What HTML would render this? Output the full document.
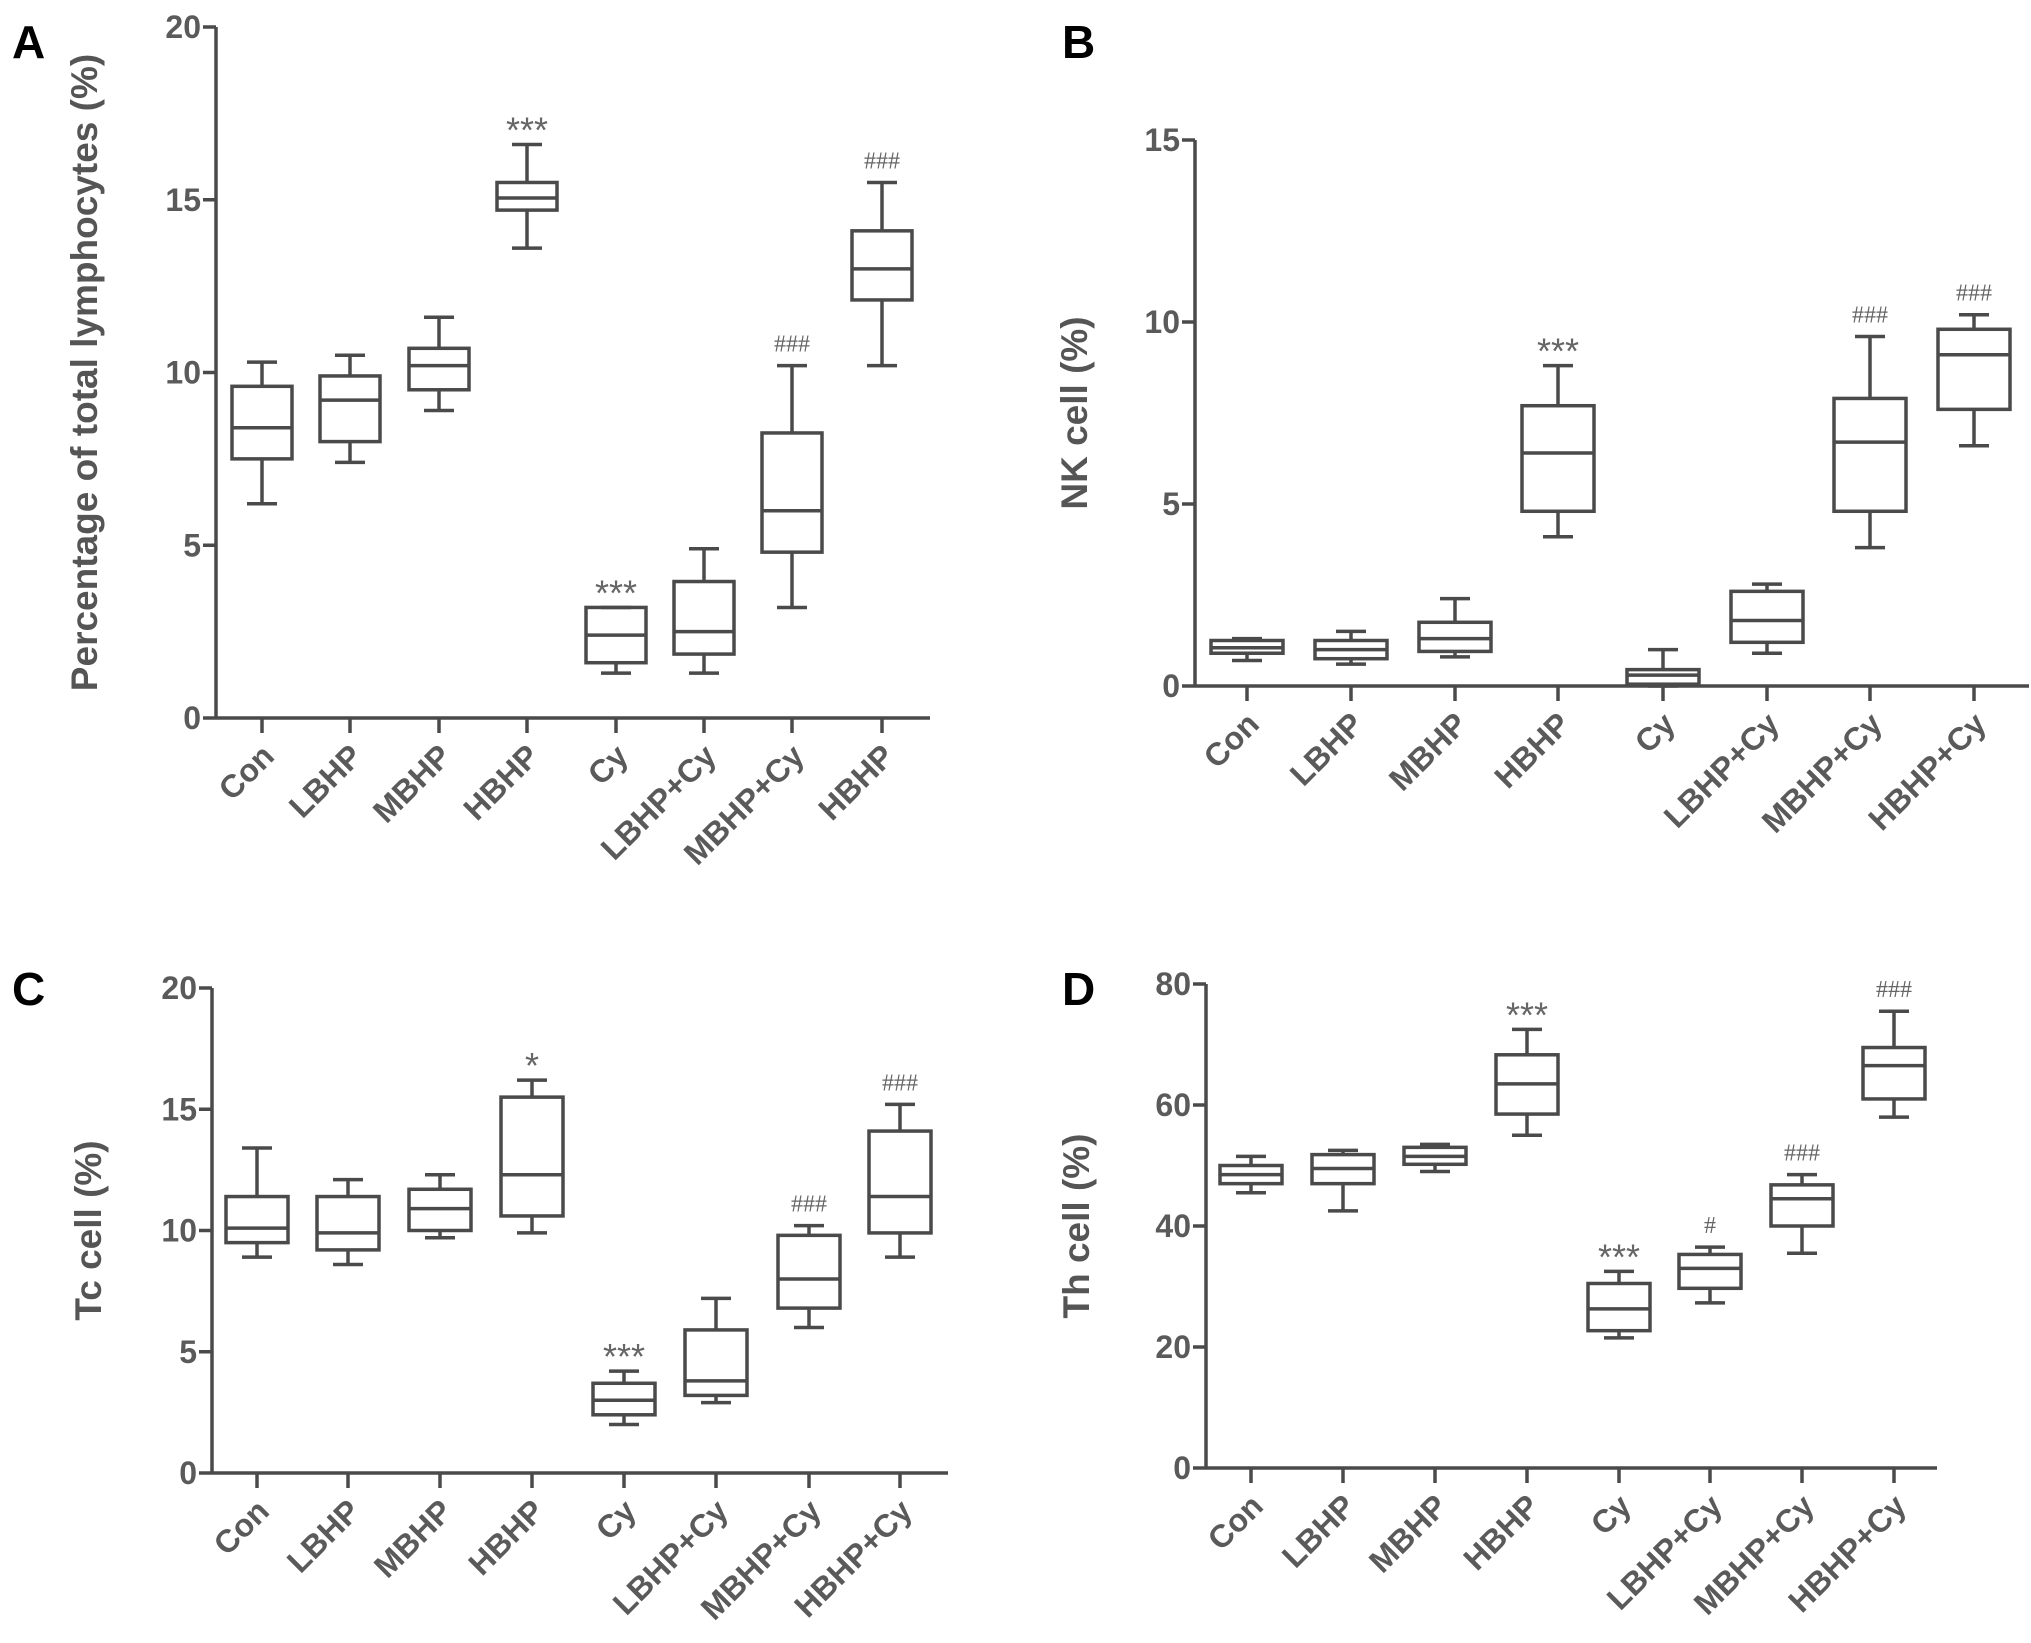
<!DOCTYPE html>
<html><head><meta charset="utf-8"><style>
html,body{margin:0;padding:0;background:#fff;}
svg{display:block;font-family:"Liberation Sans",Arial,sans-serif;}
</style></head><body>
<svg id="fig" width="2031" height="1643" viewBox="0 0 2031 1643" xmlns="http://www.w3.org/2000/svg"></svg>
<script>
const categoriesA = ["Con","LBHP","MBHP","HBHP","Cy","LBHP+Cy","MBHP+Cy","HBHP"];
const categoriesBCD = ["Con","LBHP","MBHP","HBHP","Cy","LBHP+Cy","MBHP+Cy","HBHP+Cy"];
// [whiskerLow, q1, median, q3, whiskerHigh]
const boxesA = [[6.2,7.5,8.4,9.6,10.3],[7.4,8.0,9.2,9.9,10.5],[8.9,9.5,10.2,10.7,11.6],[13.6,14.7,15.05,15.5,16.6],[1.3,1.6,2.4,3.2,3.2],[1.3,1.85,2.5,3.95,4.9],[3.2,4.8,6.0,8.25,10.2],[10.2,12.1,13.0,14.1,15.5]];
const boxesB = [[0.7,0.9,1.05,1.25,1.3],[0.6,0.75,1.0,1.25,1.5],[0.8,0.95,1.3,1.75,2.4],[4.1,4.8,6.4,7.7,8.8],[0.0,0.05,0.3,0.45,1.0],[0.9,1.2,1.8,2.6,2.8],[3.8,4.8,6.7,7.9,9.6],[6.6,7.6,9.1,9.8,10.2]];
const boxesC = [[8.9,9.5,10.1,11.4,13.4],[8.6,9.2,9.9,11.4,12.1],[9.7,10.0,10.9,11.7,12.3],[9.9,10.6,12.3,15.5,16.2],[2.0,2.4,3.0,3.7,4.2],[2.9,3.2,3.8,5.9,7.2],[6.0,6.8,8.0,9.8,10.2],[8.9,9.9,11.4,14.1,15.2]];
const boxesD = [[45.5,47,48.5,50,51.5],[42.5,47,49.5,51.8,52.5],[49,50.2,51.5,53,53.5],[55,58.5,63.5,68.3,72.5],[21.5,22.7,26.3,30.5,32.5],[27.3,29.7,33,35.3,36.5],[35.5,40,44.5,46.8,48.5],[58,61,66.5,69.5,75.5]];
const annotA = ["","","","***","***","","###","###"];
const annotB = ["","","","***","","","###","###"];
const annotC = ["","","","*","***","","###","###"];
const annotD = ["","","","***","***","#","###","###"];
const ticksA = [0,5,10,15,20];
const ticksB = [0,5,10,15];
const ticksC = [0,5,10,15,20];
const ticksD = [0,20,40,60,80];

const svg = document.getElementById('fig');
const NS = "http://www.w3.org/2000/svg";
const COL = "#4a4a4a";
function mk(tag, attrs, parent){
  const e = document.createElementNS(NS, tag);
  for (const k in attrs) e.setAttribute(k, attrs[k]);
  (parent||svg).appendChild(e);
  return e;
}
const panels = [
  {id:"a", letter:"A", lx:12, ly:58, ax:216, x1:930, yTop:27, y0:718, ymax:20, cats:categoriesA, boxes:boxesA, ann:annotA, ticks:ticksA, xs:[262,350,439,527,616,704,792,882], hw:30, title:"Percentage of  total lymphocytes (%)", tx:97},
  {id:"b", letter:"B", lx:1062, ly:58, ax:1195, x1:2029, yTop:140, y0:686, ymax:15, cats:categoriesBCD, boxes:boxesB, ann:annotB, ticks:ticksB, xs:[1247,1351,1455,1558,1663,1767,1870,1974], hw:36, title:"NK cell (%)", tx:1087},
  {id:"c", letter:"C", lx:12, ly:1005, ax:212, x1:948, yTop:988, y0:1473, ymax:20, cats:categoriesBCD, boxes:boxesC, ann:annotC, ticks:ticksC, xs:[257,348,440,532,624,716,809,900], hw:31, title:"Tc cell (%)", tx:101},
  {id:"d", letter:"D", lx:1062, ly:1005, ax:1206, x1:1937, yTop:984, y0:1468, ymax:80, cats:categoriesBCD, boxes:boxesD, ann:annotD, ticks:ticksD, xs:[1251,1343,1435,1527,1619,1710,1802,1894], hw:31, title:"Th cell (%)", tx:1089}
];
panels.forEach(p => {
  const g = mk('g', {});
  
  
  const y = v => p.y0 - (v / p.ymax) * (p.y0 - p.yTop);
  const L = mk('text', {x:p.lx, y:p.ly, 'font-size':46, 'font-weight':'bold', fill:'#000'}, g);
  L.textContent = p.letter;
  
  
  const ya = mk('line', {x1:p.ax, y1:p.yTop, x2:p.ax, y2:p.y0, stroke:COL, 'stroke-width':3.5}, g);
  
  
  const xa = mk('line', {x1:p.ax, y1:p.y0, x2:p.x1, y2:p.y0, stroke:COL, 'stroke-width':3.5}, g);
  
  
  p.ticks.forEach(t => {
    mk('line', {x1:p.ax-13, y1:y(t), x2:p.ax, y2:y(t), stroke:COL, 'stroke-width':3.5}, g);
    const tl = mk('text', {x:p.ax-15, y:y(t)+11, 'font-size':32, 'font-weight':'bold', fill:'#5a5a5a', 'text-anchor':'end'}, g);
    tl.textContent = t;
    
    
  });
  const tt = mk('text', {x:p.tx, y:(p.yTop+p.y0)/2, 'font-size':37, 'font-weight':'bold', fill:'#555', 'text-anchor':'middle', transform:'rotate(-90 '+p.tx+' '+((p.yTop+p.y0)/2)+')'}, g);
  tt.textContent = p.title;
  
  
  p.cats.forEach((c, i) => {
    const cx = p.xs[i];
    mk('line', {x1:cx, y1:p.y0, x2:cx, y2:p.y0+15, stroke:COL, 'stroke-width':3.5}, g);
    const lx = cx + 14, ly = p.y0 + 40;
    const xl = mk('text', {x:lx, y:ly, 'font-size':32, 'font-weight':'bold', fill:'#5a5a5a', 'text-anchor':'end', transform:'rotate(-45 '+lx+' '+ly+')'}, g);
    xl.textContent = c;
    
    
    const b = p.boxes[i];
    const bg = mk('g', {fill:'none', stroke:COL, 'stroke-width':3.5}, g);
    
    
    mk('line', {x1:cx, y1:y(b[4]), x2:cx, y2:y(b[3])}, bg);
    mk('line', {x1:cx, y1:y(b[0]), x2:cx, y2:y(b[1])}, bg);
    mk('line', {x1:cx-15, y1:y(b[4]), x2:cx+15, y2:y(b[4])}, bg);
    mk('line', {x1:cx-15, y1:y(b[0]), x2:cx+15, y2:y(b[0])}, bg);
    mk('rect', {x:cx-p.hw, y:y(b[3]), width:2*p.hw, height:Math.max(1, y(b[1])-y(b[3]))}, bg);
    mk('line', {x1:cx-p.hw, y1:y(b[2]), x2:cx+p.hw, y2:y(b[2])}, bg);
    const a = p.ann[i];
    if (a) {
      const isHash = a.indexOf('#') >= 0;
      const at = mk('text', {x:cx, y:y(b[4]) - (isHash ? 14 : 2), 'font-size': isHash ? 24 : 36, fill:'#666', 'text-anchor':'middle', 'font-family': isHash ? '"Liberation Serif",serif' : '"Liberation Sans",sans-serif'}, g);
      at.textContent = a;
      
      
    }
  });
});
</script>
</body></html>
